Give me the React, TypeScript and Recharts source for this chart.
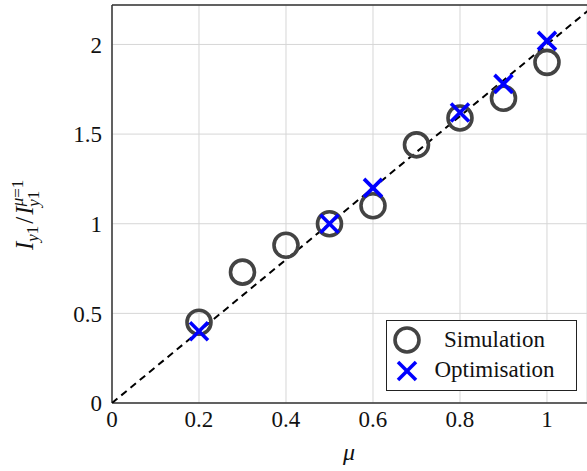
import React from 'react';
import { ScatterChart, Scatter, XAxis, YAxis, CartesianGrid, ReferenceLine } from 'recharts';

const simMu = [0.2, 0.3, 0.4, 0.5, 0.6, 0.7, 0.8, 0.9, 1.0];
const simVals = [0.45, 0.73, 0.88, 1.0, 1.1, 1.44, 1.59, 1.7, 1.9];
const optMu = [0.2, 0.5, 0.6, 0.8, 0.9, 1.0];
const optVals = [0.4, 1.0, 1.2, 1.62, 1.78, 2.02];
const fitMu = [0, 1.1];
const fitVals = [0, 2.2];
const xTicks = [0, 0.2, 0.4, 0.6, 0.8, 1];
const yTicks = [0, 0.5, 1, 1.5, 2];

const simData = simMu.map((x, i) => ({ x, y: simVals[i] }));
const optData = optMu.map((x, i) => ({ x, y: optVals[i] }));
const fitData = fitMu.map((x, i) => ({ x, y: fitVals[i] }));

const FONT = 'Liberation Serif';
const Y_MAX = 2.22;

const CircleMark = (props: any) => (
  <circle cx={props.cx} cy={props.cy} r={12} fill="none" stroke="#434343" strokeWidth={3.6} />
);

const CrossMark = (props: any) => {
  const { cx, cy } = props;
  const s = 9;
  return (
    <g stroke="#0000ff" strokeWidth={3.6}>
      <line x1={cx - s} y1={cy - s} x2={cx + s} y2={cy + s} />
      <line x1={cx - s} y1={cy + s} x2={cx + s} y2={cy - s} />
    </g>
  );
};

const tickStyle = { fontFamily: FONT, fontSize: 23, fill: '#111' };

export default function App() {
  return (
    <div style={{ position: 'absolute', left: 0, top: 0, width: 587, height: 471, background: '#fff', fontFamily: FONT }}>
      <ScatterChart width={587} height={471} margin={{ top: 5, right: 0, bottom: 0, left: 0 }}>
        <CartesianGrid stroke="#d6d6d6" strokeWidth={1} />
        <XAxis
          type="number"
          dataKey="x"
          domain={[0, 1.092]}
          allowDataOverflow
          ticks={xTicks}
          tick={tickStyle}
          tickLine={false}
          tickSize={0}
          tickMargin={8}
          height={68}
          axisLine={{ stroke: '#333', strokeWidth: 1.5 }}
        />
        <YAxis
          type="number"
          dataKey="y"
          domain={[0, Y_MAX]}
          allowDataOverflow
          ticks={yTicks}
          tick={tickStyle}
          tickLine={false}
          tickSize={0}
          tickMargin={10}
          width={112}
          axisLine={{ stroke: '#333', strokeWidth: 1.5 }}
        />
        <ReferenceLine y={Y_MAX} stroke="#333" strokeWidth={1.5} />
        <Scatter
          data={fitData}
          line={{ stroke: '#000', strokeWidth: 2, strokeDasharray: '7 5' }}
          shape={() => <g />}
          isAnimationActive={false}
        />
        <Scatter data={simData} shape={CircleMark} isAnimationActive={false} />
        <Scatter data={optData} shape={CrossMark} isAnimationActive={false} />
      </ScatterChart>

      <svg style={{ position: 'absolute', left: 0, top: 0 }} width={587} height={471} pointerEvents="none">
        <text transform="translate(33,250) rotate(-90)" fontFamily={FONT} fontSize={25} fill="#111">
          <tspan fontStyle="italic">I</tspan>
          <tspan fontSize={17} dy={5} fontStyle="italic">y</tspan>
          <tspan fontSize={17}>1</tspan>
          <tspan dy={-5} dx={2}>/</tspan>
          <tspan fontStyle="italic" dx={2}>I</tspan>
          <tspan fontSize={17} dy={-10} fontStyle="italic">μ</tspan>
          <tspan fontSize={17}>=1</tspan>
          <tspan fontSize={17} dy={16} dx={-27} fontStyle="italic">y</tspan>
          <tspan fontSize={17}>1</tspan>
        </text>
        <text x={349} y={460} textAnchor="middle" fontFamily={FONT} fontSize={24} fontStyle="italic" fill="#111">
          μ
        </text>
      </svg>

      <div
        style={{
          position: 'absolute',
          left: 386,
          top: 320,
          width: 189,
          height: 69,
          border: '1px solid #222',
          background: '#fff',
          fontSize: 23,
          color: '#111',
        }}
      >
        <svg style={{ position: 'absolute', left: 0, top: 0 }} width={50} height={69}>
          <circle cx={20} cy={19} r={12} fill="none" stroke="#434343" strokeWidth={3.6} />
          <g stroke="#0000ff" strokeWidth={3.6}>
            <line x1={11} y1={41} x2={29} y2={59} />
            <line x1={11} y1={59} x2={29} y2={41} />
          </g>
        </svg>
        <div style={{ position: 'absolute', left: 26, right: 0, top: 5, textAlign: 'center', lineHeight: '28px' }}>
          Simulation
        </div>
        <div style={{ position: 'absolute', left: 26, right: 0, top: 35, textAlign: 'center', lineHeight: '28px' }}>
          Optimisation
        </div>
      </div>
    </div>
  );
}
